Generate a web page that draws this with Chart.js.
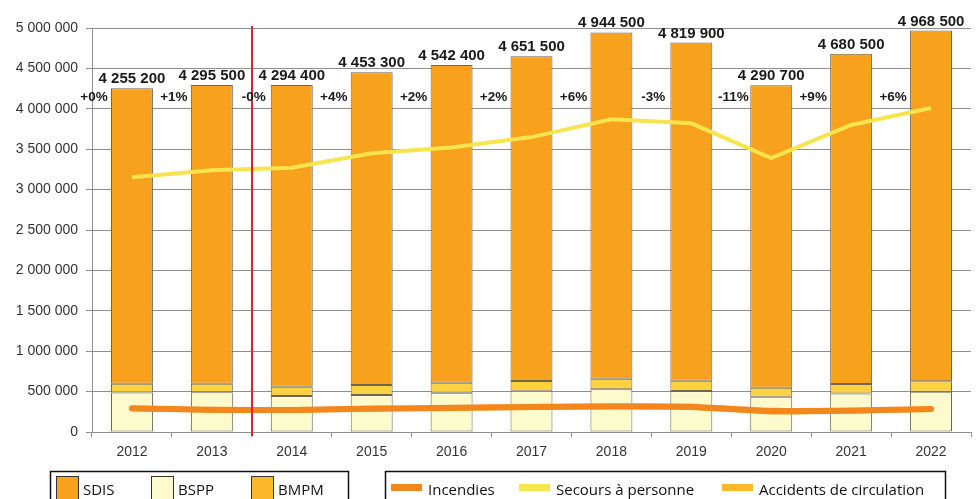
<!DOCTYPE html>
<html>
<head>
<meta charset="utf-8">
<script src="https://cdn.jsdelivr.net/npm/chart.js@4.4.1/dist/chart.umd.min.js"></script>
<style>
    html, body { margin: 0; padding: 0; background: #fff; }
    #wrap { position: relative; width: 976px; height: 499px; }
</style>
</head>
<body>
<div id="wrap"><canvas id="chart" width="976" height="499"></canvas></div>
<script>
// Values
const years = ['2012', '2013', '2014', '2015', '2016', '2017', '2018', '2019', '2020', '2021', '2022'];
const bspp = [488000, 491000, 445000, 458000, 486000, 511000, 528000, 507000, 437000, 478000, 499000];
const bmpm = [110000, 107000, 115000, 124000, 124000, 120000, 132000, 128000, 111000, 116000, 128000];
const sdis = [3657200, 3697500, 3734400, 3871300, 3932400, 4020500, 4284500, 4184900, 3742700, 4086500, 4341500];
const incendies = [293000, 276000, 272000, 290000, 300000, 310000, 318000, 313000, 262000, 266000, 285000];
const secours = [3152000, 3240000, 3270000, 3450000, 3520000, 3650000, 3870000, 3820000, 3390000, 3800000, 4010000];
const accidents = [286000, 270000, 266000, 283000, 292000, 302000, 308000, 303000, 248000, 258000, 279000];
const evolution = ['+0%', '+1%', '-0%', '+4%', '+2%', '+2%', '+6%', '-3%', '-11%', '+9%', '+6%'];
const yMax = 5000000;
const yStep = 500000;

const colors = {
    sdis: '#f8a11d',
    bspp: '#fdfbcd',
    bmpm: '#fcd23f',
    bmpmLegend: '#fbb829',
    barBorder: '#6e6552',
    incendies: '#f3861c',
    secours: '#f7e44e',
    accidents: '#f0a020',
    grid: '#8f8f8f',
    text: '#333333',
    label: '#1a1a1a',
    marker: '#d8262c'
};

const fonts = {
    axis: '"Liberation Sans", Arial, sans-serif',
    legend: '"Open Sans", "Noto Sans", sans-serif'
};

const fmt = (n) => String(n).replace(/\B(?=(\d{3})+(?!\d))/g, ' ');

// red separator, totals above the bars and yearly evolution
const annotations = {
    id: 'annotations',
    afterDatasetsDraw(chart) {
        const { ctx, chartArea, scales: { x, y } } = chart;
        const step = x.getPixelForValue(1) - x.getPixelForValue(0);
        ctx.save();

        const sepX = Math.round((x.getPixelForValue(1) + x.getPixelForValue(2)) / 2);
        ctx.strokeStyle = colors.marker;
        ctx.lineWidth = 2;
        ctx.beginPath();
        ctx.moveTo(sepX, chartArea.top - 2);
        ctx.lineTo(sepX, chartArea.bottom + 4);
        ctx.stroke();

        ctx.fillStyle = colors.label;
        ctx.textAlign = 'center';
        ctx.textBaseline = 'alphabetic';
        ctx.font = 'bold 15px ' + fonts.axis;
        years.forEach((yr, i) => {
            const total = sdis[i] + bspp[i] + bmpm[i];
            ctx.fillText(fmt(total), x.getPixelForValue(i), y.getPixelForValue(total) - 5);
        });

        ctx.font = 'bold 13.5px ' + fonts.axis;
        ctx.textBaseline = 'middle';
        evolution.forEach((t, i) => {
            ctx.fillText(t, x.getPixelForValue(i) - step / 2 + 2, chartArea.top + 69);
        });
        ctx.restore();
    }
};

// the two boxed legends under the chart
const legendBoxes = {
    id: 'legendBoxes',
    afterDraw(chart) {
        const ctx = chart.ctx;
        const byLabel = (l) => chart.data.datasets.find(d => d.label === l);
        ctx.save();
        ctx.strokeStyle = '#111';
        ctx.lineWidth = 1.5;
        ctx.strokeRect(50.5, 471.5, 298, 40);
        ctx.strokeRect(385.5, 471.5, 560, 40);

        ctx.font = '15px ' + fonts.legend;
        ctx.textAlign = 'left';
        ctx.textBaseline = 'alphabetic';

        [['SDIS', 56], ['BSPP', 151], ['BMPM', 251]].forEach(([label, lx]) => {
            const ds = byLabel(label);
            ctx.fillStyle = ds.legendColor || ds.backgroundColor;
            ctx.fillRect(lx, 476, 22, 26);
            ctx.strokeStyle = '#333';
            ctx.lineWidth = 1;
            ctx.strokeRect(lx + 0.5, 476.5, 22, 26);
            ctx.fillStyle = '#111';
            ctx.fillText(label, lx + 27, 495);
        });

        [['Incendies', 391], ['Secours à personne', 519], ['Accidents de circulation', 722]].forEach(([label, lx]) => {
            const ds = byLabel(label);
            ctx.fillStyle = ds.legendColor || ds.borderColor;
            ctx.fillRect(lx, 484, 31, 7);
            ctx.fillStyle = '#111';
            ctx.fillText(label, lx + 37, 495);
        });
        ctx.restore();
    }
};

const barBase = {
    type: 'bar',
    stack: 'bars',
    order: 3,
    borderColor: colors.barBorder,
    borderWidth: 1,
    borderSkipped: false
};

new Chart(document.getElementById('chart'), {
    type: 'bar',
    data: {
        labels: years,
        datasets: [
            { ...barBase, label: 'BSPP', data: bspp, backgroundColor: colors.bspp },
            { ...barBase, label: 'BMPM', data: bmpm, backgroundColor: colors.bmpm, legendColor: colors.bmpmLegend },
            { ...barBase, label: 'SDIS', data: sdis, backgroundColor: colors.sdis },
            {
                type: 'line', label: 'Accidents de circulation', data: accidents, stack: 'acc', order: 2,
                borderColor: colors.accidents, legendColor: '#fbb829', borderWidth: 5, pointRadius: 0, tension: 0.2,
                borderCapStyle: 'round'
            },
            {
                type: 'line', label: 'Incendies', data: incendies, stack: 'inc', order: 1,
                borderColor: colors.incendies, borderWidth: 6, pointRadius: 0, tension: 0.2,
                borderCapStyle: 'round'
            },
            {
                type: 'line', label: 'Secours à personne', data: secours, stack: 'sec', order: 0,
                borderColor: colors.secours, borderWidth: 4, pointRadius: 0, tension: 0
            }
        ]
    },
    options: {
        responsive: false,
        animation: false,
        layout: { padding: { top: 28, right: 5, left: 0, bottom: 0 } },
        datasets: { bar: { categoryPercentage: 1, barPercentage: 0.525 } },
        plugins: {
            legend: { display: false },
            tooltip: { enabled: false }
        },
        scales: {
            x: {
                stacked: true,
                afterFit: (scale) => { scale.height = 67; },
                grid: { drawOnChartArea: false, color: colors.grid, tickLength: 5 },
                border: { color: colors.grid },
                ticks: { color: colors.text, font: { family: fonts.axis, size: 14 }, padding: 7 }
            },
            y: {
                stacked: true,
                min: 0,
                max: yMax,
                afterFit: (scale) => { scale.width = 92; },
                grid: { color: colors.grid, tickLength: 6 },
                border: { color: colors.grid },
                ticks: {
                    stepSize: yStep,
                    color: colors.text,
                    font: { family: fonts.axis, size: 14 },
                    padding: 8,
                    callback: (v) => fmt(v)
                }
            }
        }
    },
    plugins: [annotations, legendBoxes]
});
</script>
</body>
</html>
